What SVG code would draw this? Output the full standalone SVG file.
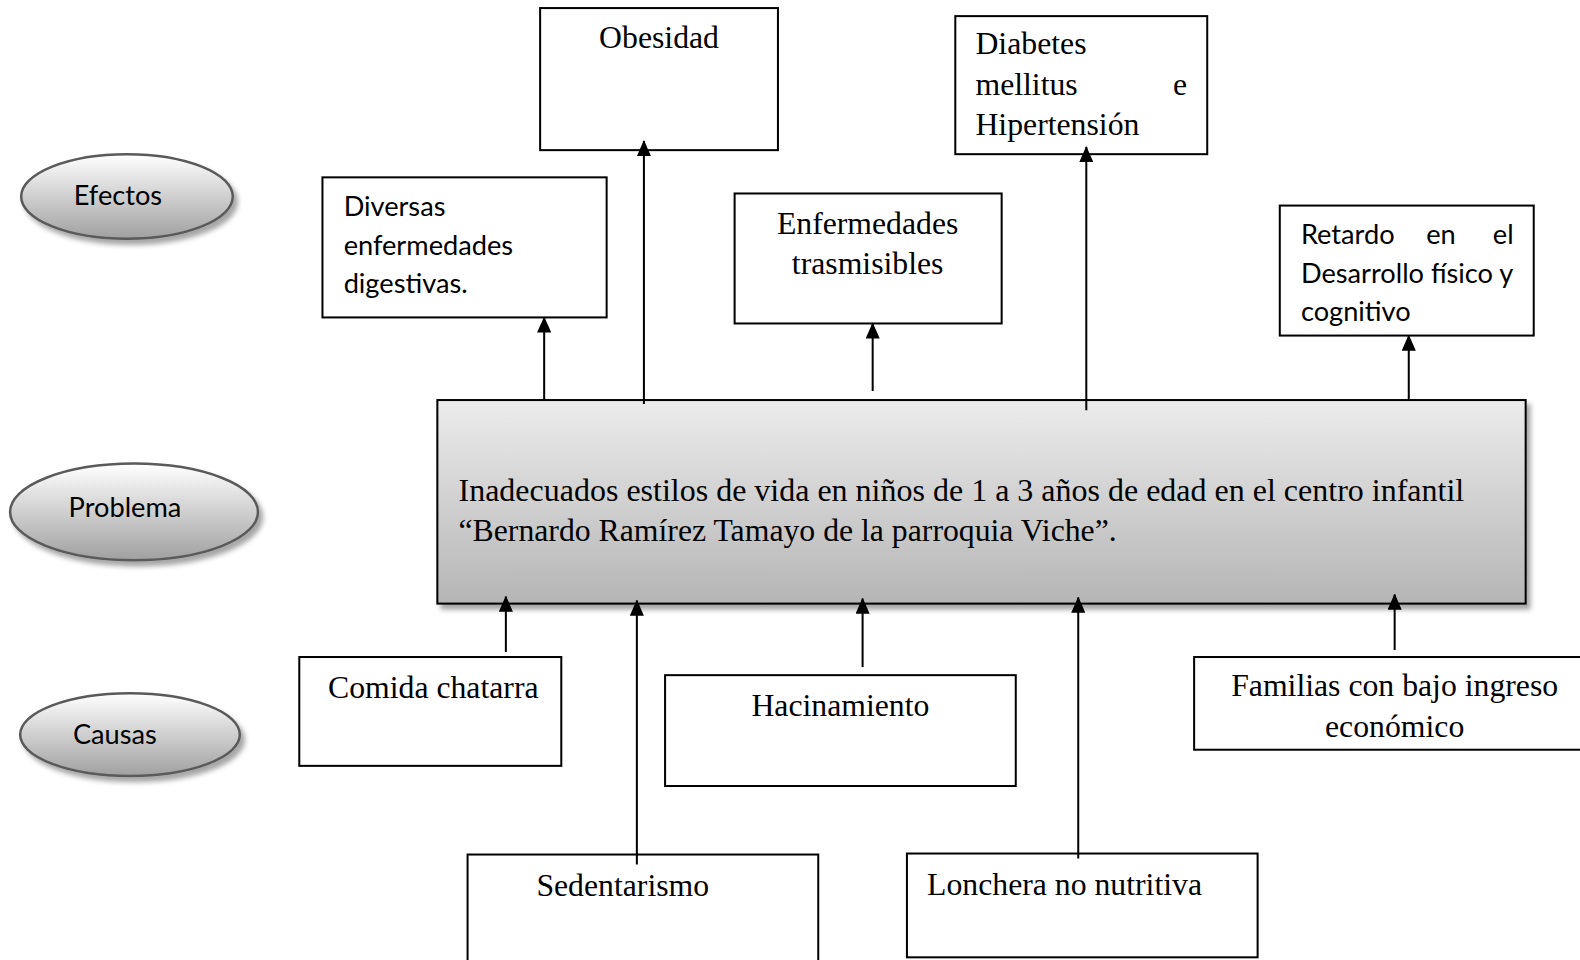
<svg xmlns="http://www.w3.org/2000/svg" width="1580" height="960" viewBox="0 0 1580 960">
<style>
.box{fill:#fff;stroke:#000;stroke-width:2}
.ser{font-family:"Liberation Serif","Times New Roman",serif;font-size:31.5px;fill:#000}
.san{font-family:Lato,"Open Sans",sans-serif;font-size:27px;fill:#000}
.oval{fill:url(#og);stroke:#5a5a5a;stroke-width:2.5;filter:url(#sh)}
.con{stroke:#000;stroke-width:2;fill:none;marker-end:url(#ah)}
</style>
<defs>
<linearGradient id="og" x1="0" y1="0" x2="0" y2="1">
<stop offset="0" stop-color="#ffffff"/>
<stop offset="1" stop-color="#a0a0a0"/>
</linearGradient>
<linearGradient id="mg" x1="0" y1="0" x2="0" y2="1">
<stop offset="0" stop-color="#ececec"/>
<stop offset="1" stop-color="#b5b5b5"/>
</linearGradient>
<filter id="sh" x="-10%" y="-10%" width="130%" height="140%">
<feDropShadow dx="4" dy="5" stdDeviation="2.5" flood-color="#000" flood-opacity="0.35"/>
</filter>
<marker id="ah" markerWidth="16" markerHeight="14" refX="15" refY="7" orient="auto" markerUnits="userSpaceOnUse" viewBox="0 0 16 14">
<path d="M0,0 L16,7 L0,14 Z" fill="#000"/>
</marker>
</defs>
<rect width="1580" height="960" fill="#fff"/>
<g transform="scale(1.0077)">
<g id="efectos"><ellipse class="oval" cx="126" cy="195" rx="105" ry="42"/><text class="san" x="117" y="203" text-anchor="middle">Efectos</text></g>
<g id="problema"><ellipse class="oval" cx="133" cy="508" rx="123" ry="48"/><text class="san" x="124" y="513" text-anchor="middle">Problema</text></g>
<g id="causas"><ellipse class="oval" cx="129" cy="729" rx="109" ry="41"/><text class="san" x="114" y="738" text-anchor="middle">Causas</text></g>

<g id="obesidad"><rect class="box" x="536" y="8" width="236" height="141"/><text class="ser" x="654" y="48" text-anchor="middle">Obesidad</text></g>
<g id="diabetes"><rect class="box" x="948" y="16" width="250" height="137"/>
<text class="ser" x="968" y="54">Diabetes</text>
<text class="ser" x="968" y="94">mellitus</text><text class="ser" x="1178" y="94" text-anchor="end">e</text>
<text class="ser" x="968" y="134">Hipertensión</text></g>
<g id="diversas"><rect class="box" x="320" y="176" width="282" height="139"/>
<text class="san" x="341" y="214">Diversas</text>
<text class="san" x="341" y="253">enfermedades</text>
<text class="san" x="341" y="291">digestivas.</text></g>
<g id="enfermedades"><rect class="box" x="729" y="192" width="265" height="129"/>
<text class="ser" x="861" y="232" text-anchor="middle">Enfermedades</text>
<text class="ser" x="861" y="272" text-anchor="middle">trasmisibles</text></g>
<g id="retardo"><rect class="box" x="1270" y="204" width="252" height="129"/>
<text class="san" x="1291" y="242">Retardo</text><text class="san" x="1430" y="242" text-anchor="middle">en</text><text class="san" x="1502" y="242" text-anchor="end">el</text>
<text class="san" x="1291" y="281">Desarrollo físico y</text>
<text class="san" x="1291" y="319">cognitivo</text></g>

<g id="problema-central"><rect x="434" y="397" width="1080" height="202" fill="url(#mg)" stroke="#000" stroke-width="2" filter="url(#sh)"/>
<text class="ser" x="455" y="497" textLength="998" lengthAdjust="spacingAndGlyphs">Inadecuados estilos de vida en niños de 1 a 3 años de edad en el centro infantil</text>
<text class="ser" x="455" y="537">“Bernardo Ramírez Tamayo de la parroquia Viche”.</text></g>

<g id="comida"><rect class="box" x="297" y="652" width="260" height="108"/><text class="ser" x="430" y="693" text-anchor="middle">Comida chatarra</text></g>
<g id="hacinamiento"><rect class="box" x="660" y="670" width="348" height="110"/><text class="ser" x="834" y="711" text-anchor="middle">Hacinamiento</text></g>
<g id="familias"><rect class="box" x="1185" y="652" width="400" height="92"/>
<text class="ser" x="1384" y="691" text-anchor="middle">Familias con bajo ingreso</text>
<text class="ser" x="1384" y="731" text-anchor="middle">económico</text></g>
<g id="sedentarismo"><rect class="box" x="464" y="848" width="348" height="130"/><text class="ser" x="618" y="889" text-anchor="middle">Sedentarismo</text></g>
<g id="lonchera"><rect class="box" x="900" y="847" width="348" height="103"/><text class="ser" x="920" y="888">Lonchera no nutritiva</text></g>

<g id="connectors">
<line class="con" x1="540" y1="397" x2="540" y2="315"/>
<line class="con" x1="639" y1="401" x2="639" y2="140"/>
<line class="con" x1="866" y1="388" x2="866" y2="321"/>
<line class="con" x1="1078" y1="407" x2="1078" y2="146"/>
<line class="con" x1="1398" y1="396" x2="1398" y2="333"/>
<line class="con" x1="502" y1="647" x2="502" y2="592"/>
<line class="con" x1="632" y1="858" x2="632" y2="596"/>
<line class="con" x1="856" y1="662" x2="856" y2="594"/>
<line class="con" x1="1070" y1="852" x2="1070" y2="593"/>
<line class="con" x1="1384" y1="645" x2="1384" y2="590"/>
</g>
</g>
</svg>
